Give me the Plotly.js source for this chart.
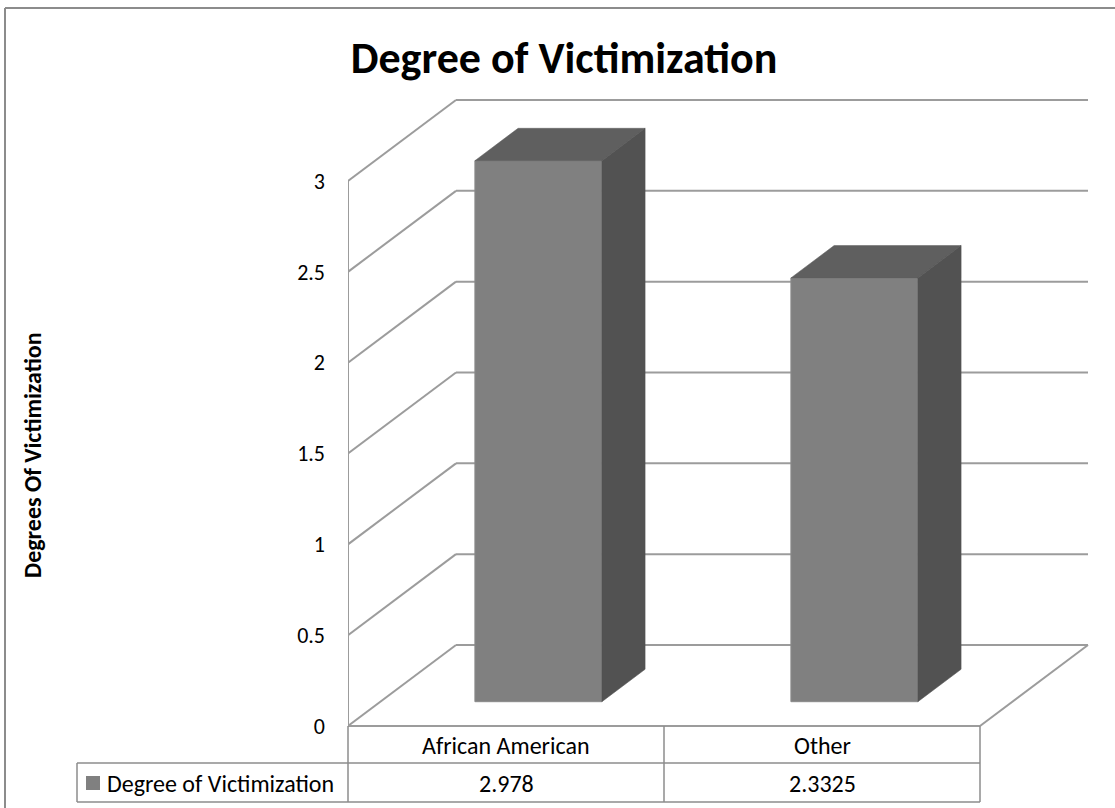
<!DOCTYPE html>
<html>
<head>
<meta charset="utf-8">
<script src="https://cdn.plot.ly/plotly-3.0.1.min.js"></script>
<style>html,body{margin:0;padding:0;background:#fff;}#chart{width:1115px;height:808px;}</style>
</head>
<body>
<div id="chart"></div>
<script>
// ---- data ----
const categories = ["African American", "Other"];
const values = [2.978, 2.3325];
const valueLabels = ["2.978", "2.3325"];
const seriesName = "Degree of Victimization";
const yTicks = [0, 0.5, 1, 1.5, 2, 2.5, 3];
const yTickText = ["0", "0.5", "1", "1.5", "2", "2.5", "3"];

// ---- geometry (layout) ----
const W = 1115, H = 808;
const L = 348, T = 95, PW = 747, PH = 635;
const CAT_PX = 316, VAL_PX = 181.67;
const kx = 108 / CAT_PX, ky = 81 / VAL_PX;   // depth offset of back wall
const f0 = 0.30, f1 = 0.70;                    // bar front/back depth fractions
const barW = 127 / CAT_PX;
const xr = [-0.5, -0.5 + PW / CAT_PX];
const yr = [-(T + PH - 726) / VAL_PX, (726 - T) / VAL_PX];
const px2x = p => (p - L) / PW;
const py2y = p => (T + PH - p) / PH;

const FONT = "Carlito, Calibri, 'Open Sans', sans-serif";
const gridCol = "#9c9c9c", tableCol = "#8c8c8c";

const shapes = [];
function seg(x0, y0, x1, y1, col, w) {
  shapes.push({type: "line", xref: "x", yref: "y", x0, y0, x1, y1,
    line: {color: col, width: w}, layer: "below"});
}
const x0 = -0.5, x1 = -0.5 + categories.length;
const vmax = yTicks[yTicks.length - 1];
yTicks.forEach(v => {
  seg(x0 + kx, v + ky, x1 + kx, v + ky, gridCol, 2);   // back wall
  seg(x0, v, x0 + kx, v + ky, gridCol, 2);             // side wall
});
seg(x0, 0, x0, vmax, gridCol, 2);                      // left vertical edge
seg(x0, 0, x1, 0, gridCol, 2);                         // floor front
seg(x1, 0, x1 + kx, ky, gridCol, 2);                   // floor right

// table (paper coords)
const pl = (a, b, c, d) => shapes.push({type: "line", xref: "paper", yref: "paper",
  x0: px2x(a), y0: py2y(b), x1: px2x(c), y1: py2y(d), line: {color: tableCol, width: 1.5}});
const rowTop = 726, rowMid = 763, rowBot = 802, legL = 77;
const colX = [x0, x0 + 1, x1].map(v => L + (v - xr[0]) * CAT_PX);
pl(colX[0], rowMid, colX[2], rowMid);
pl(legL, rowMid, colX[0], rowMid);
pl(legL, rowBot, colX[2], rowBot);
pl(legL, rowMid, legL, rowBot);
colX.forEach(c => pl(c, rowTop, c, rowBot));
shapes.push({type: "rect", xref: "paper", yref: "paper", x0: px2x(86), x1: px2x(100),
  y0: py2y(790), y1: py2y(776), fillcolor: "#808080", line: {width: 0}});
// outer border
shapes.push({type: "line", xref: "paper", yref: "paper", x0: px2x(5), y0: py2y(8), x1: px2x(1115), y1: py2y(8), line: {color: "#8c8c8c", width: 2}});
shapes.push({type: "line", xref: "paper", yref: "paper", x0: px2x(5), y0: py2y(8), x1: px2x(5), y1: py2y(808), line: {color: "#8c8c8c", width: 2}});

// ---- traces ----
const traces = [];
const xs = categories.map((c, i) => i + f0 * kx);
traces.push({type: "bar", x: xs, y: values, base: categories.map(() => f0 * ky), width: barW,
  xaxis: "x2", yaxis: "y2", name: seriesName, hoverinfo: "skip",
  marker: {color: "#808080", line: {color: "#8a8a8a", width: 1}}});
categories.forEach((c, i) => {
  const a = i - barW / 2 + f0 * kx, b = i + barW / 2 + f0 * kx;
  const d = (f1 - f0) * kx, e = (f1 - f0) * ky;
  const yb = f0 * ky, v = values[i];
  traces.push({type: "scatter", mode: "lines", xaxis: "x2", yaxis: "y2", fill: "toself",
    fillcolor: "#5f5f5f", line: {color: "#5f5f5f", width: 0.5}, hoverinfo: "skip",
    x: [a, b, b + d, a + d, a], y: [yb + v, yb + v, yb + v + e, yb + v + e, yb + v]});
  traces.push({type: "scatter", mode: "lines", xaxis: "x2", yaxis: "y2", fill: "toself",
    fillcolor: "#525252", line: {color: "#525252", width: 0.5}, hoverinfo: "skip",
    x: [b, b + d, b + d, b, b], y: [yb + v, yb + v + e, yb + e, yb, yb + v]});
});

// ---- annotations ----
const ann = [];
const tf = {family: FONT, size: 24, color: "#000"};
categories.forEach((c, i) => {
  ann.push({xref: "x", yref: "paper", x: i, y: py2y((rowTop + rowMid) / 2 + 1), xanchor: "center", yanchor: "middle",
    text: c, showarrow: false, font: tf});
  ann.push({xref: "x", yref: "paper", x: i, y: py2y((rowMid + rowBot) / 2 + 1), xanchor: "center", yanchor: "middle",
    text: valueLabels[i], showarrow: false, font: tf});
});
ann.push({xref: "paper", yref: "paper", x: px2x(105), y: py2y((rowMid + rowBot) / 2 + 1), xanchor: "left", yanchor: "middle",
  text: seriesName, showarrow: false, font: tf});
ann.push({xref: "paper", yref: "paper", x: px2x(32), y: py2y(455), xanchor: "center", yanchor: "middle",
  text: "<b>Degrees Of Victimization</b>", textangle: -90, showarrow: false,
  font: {family: FONT, size: 24, color: "#000"}});

const layout = {
  width: W, height: H,
  margin: {l: L, r: W - L - PW, t: T, b: H - T - PH, pad: 0},
  paper_bgcolor: "#fff", plot_bgcolor: "rgba(0,0,0,0)",
  showlegend: false,
  title: {text: "<b>Degree of Victimization</b>", x: 564 / W, xanchor: "center",
    y: 1 - 58 / H, yanchor: "middle", yref: "container", font: {family: FONT, size: 44, color: "#000"}},
  xaxis: {range: xr, showgrid: false, zeroline: false, showticklabels: false, ticks: "", fixedrange: true},
  yaxis: {range: yr, showgrid: false, zeroline: false, tickmode: "array", tickvals: yTicks, ticktext: yTickText,
    ticks: "", ticklabelstandoff: 22, tickfont: {family: FONT, size: 22, color: "#000"}, fixedrange: true},
  xaxis2: {range: xr, overlaying: "x", visible: false, fixedrange: true},
  yaxis2: {range: yr, overlaying: "y", visible: false, fixedrange: true},
  shapes: shapes, annotations: ann
};
Plotly.newPlot("chart", traces, layout, {displayModeBar: false, staticPlot: true});
</script>
</body>
</html>
